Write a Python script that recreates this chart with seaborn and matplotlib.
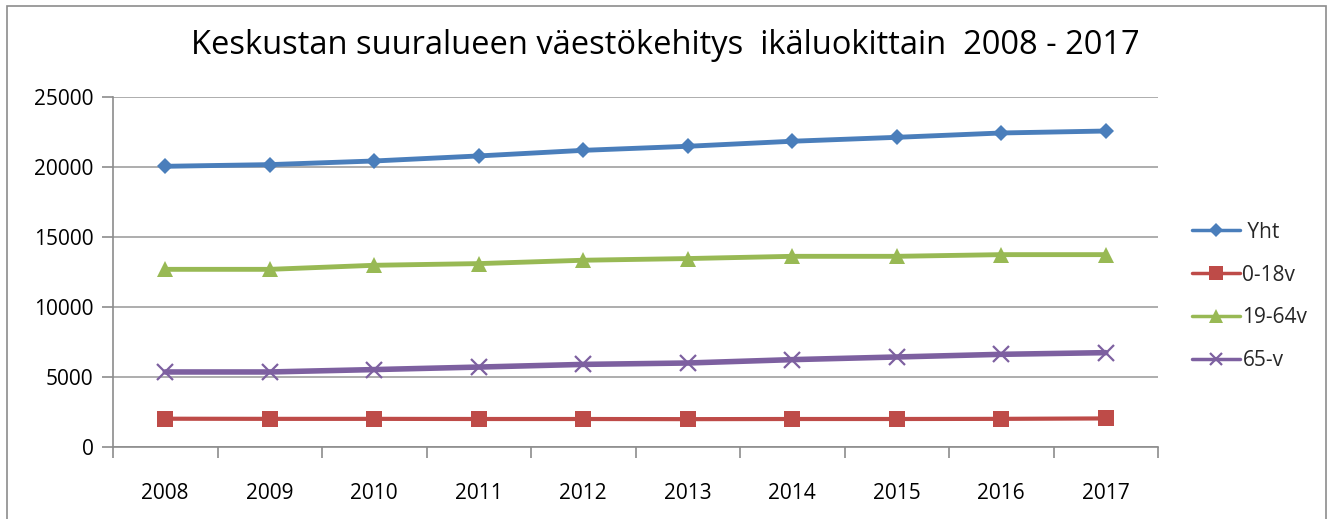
import matplotlib
matplotlib.use("Agg")
import matplotlib.pyplot as plt
import seaborn as sns
import numpy as np
import pandas as pd
from matplotlib.patches import Rectangle

years = ["2008", "2009", "2010", "2011", "2012", "2013", "2014", "2015", "2016", "2017"]
yht = [20050, 20170, 20430, 20790, 21190, 21480, 21840, 22120, 22430, 22570]
v0_18 = [2020, 2010, 2010, 2000, 2000, 1990, 2000, 2000, 2010, 2040]
v19_64 = [12690, 12690, 12980, 13100, 13340, 13460, 13620, 13620, 13740, 13740]
v65 = [5360, 5360, 5530, 5710, 5900, 6000, 6240, 6430, 6620, 6740]
series_names = [" Yht", "0-18v", "19-64v", "65-v"]
yticks = [0, 5000, 10000, 15000, 20000, 25000]
title = "Keskustan suuralueen väestökehitys  ikäluokittain  2008 - 2017"

sns.set_theme(style="white")
plt.rcParams['font.family'] = ['Open Sans', 'DejaVu Sans']

fig = plt.figure(figsize=(13.31, 5.19), dpi=100)
ax = fig.add_axes([113/1331, 1-447/519, (1158-113)/1331, (447-97)/519])

pos = np.arange(len(years))
styles = [
    dict(color="#4A7EBB", marker="D", markersize=8, linewidth=3.5, mew=0),
    dict(color="#BE4B48", marker="s", markersize=12, linewidth=3, mew=0),
    dict(color="#98B954", marker="^", markersize=12, linewidth=3.5, mew=0),
    dict(color="#7D60A0", marker="x", markersize=11, linewidth=4, mew=1.6),
]
for name, vals, st in zip(series_names, [yht, v0_18, v19_64, v65], styles):
    df = pd.DataFrame({"x": pos, "y": vals})
    sns.lineplot(data=df, x="x", y="y", ax=ax, label=name, color=st["color"],
                 marker=st["marker"], markersize=st["markersize"], linewidth=st["linewidth"],
                 markeredgewidth=st["mew"], markeredgecolor=st["color"], zorder=3)

ax.set_xlim(-0.5, len(years) - 0.5)
ax.set_ylim(0, 25000)
ax.set_yticks(yticks)
ax.set_yticklabels([str(t) for t in yticks])
ax.set_xticks(pos)
ax.set_xticklabels(years)
ax.set_xticks(np.arange(-0.5, len(years)), minor=True)
ax.set_xlabel("")
ax.set_ylabel("")
ax.grid(axis="y", color="#A0A0A0", linewidth=1.2)
ax.grid(axis="x", visible=False)
for s in ["top", "right"]:
    ax.spines[s].set_visible(False)
for s in ["left", "bottom"]:
    ax.spines[s].set_color("#8C8C8C")
    ax.spines[s].set_linewidth(1.2)
ax.tick_params(axis="y", which="major", left=True, length=8, color="#8C8C8C", width=1.2,
               labelsize=15, pad=6, labelcolor="black")
ax.tick_params(axis="x", which="major", bottom=False, length=0, labelsize=15, pad=26, labelcolor="black")
ax.tick_params(axis="x", which="minor", bottom=True, length=8, color="#8C8C8C", width=1.2)

leg = ax.legend(loc="center left", bbox_to_anchor=(1.025, 0.43), frameon=False, fontsize=15,
                handlelength=2.3, handletextpad=0.1, labelspacing=1.05, markerscale=0.85,
                borderaxespad=0.0)
for h in leg.get_lines():
    h.set_linewidth(2.5)

fig.text(0.5, 1-45/519, title, ha="center", va="center", fontsize=23.5, color="black")
fig.patches.append(Rectangle((7/1331, -0.05), 1319/1331, 1.05 - 6/519, transform=fig.transFigure,
                             fill=False, edgecolor="#8C8C8C", linewidth=1.2))

fig.savefig("out.png", dpi=100)
